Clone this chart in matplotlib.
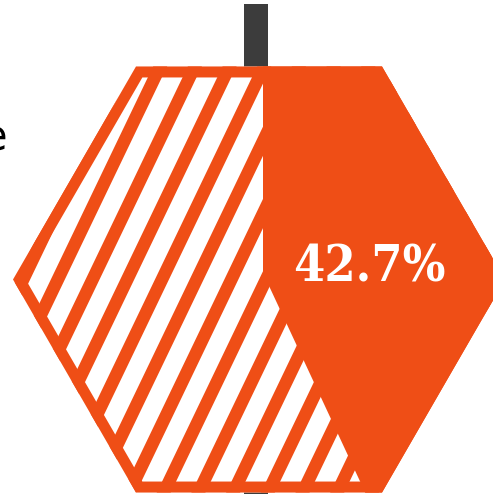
import matplotlib
matplotlib.use("Agg")
import matplotlib.pyplot as plt
import numpy as np
from matplotlib.patches import Polygon, Rectangle

# ---- data ----
value_pct = 42.7
value_label = "42.7%"
side_text = "e"

ORANGE = "#EF4E16"
DARK = "#3C3C3C"

fig = plt.figure(figsize=(4.93, 4.94), dpi=100)
ax = fig.add_axes([0, 0, 1, 1])
ax.set_xlim(0, 493)
ax.set_ylim(494, 0)
ax.axis("off")

# hexagon geometry (pixel space)
cx, cy, R = 259.0, 279.5, 246.0
h = R * np.sqrt(3) / 2
ang = np.deg2rad([0, 60, 120, 180, 240, 300])
hx = cx + R * np.cos(ang)
hy = cy - R * np.sin(ang)
hex_xy = np.column_stack([hx, hy])

# dark vertical bar behind
ax.add_patch(Rectangle((244, 4), 24, 500, color=DARK, zorder=1, lw=0))

hexpatch = Polygon(hex_xy, closed=True, facecolor="white", edgecolor="none", zorder=2)
ax.add_patch(hexpatch)

# stripes
a, p, s, w = 72.0, 34.7, 0.48, 14.0
for k in range(-12, 20):
    x250 = a + p * k
    y0, y1 = -10, 510
    xa = x250 - s * (y0 - 250)
    xb = x250 - s * (y1 - 250)
    st = Polygon([(xa - w / 2, y0), (xa + w / 2, y0), (xb + w / 2, y1), (xb - w / 2, y1)],
                 closed=True, facecolor=ORANGE, edgecolor="none", zorder=3)
    ax.add_patch(st)
    st.set_clip_path(hexpatch)

# solid part
xs, ya = cx + 4, 273.0
ybot = cy + h
xbot = xs + 0.47 * (ybot - ya)
solid = Polygon([(xs, cy - h - 2), (hx[1], hy[1] - 2), (hx[0] + 5, hy[0]), (hx[5], hy[5] + 2),
                 (xbot, ybot + 2), (xs, ya)],
                closed=True, facecolor=ORANGE, edgecolor="none", zorder=4)
ax.add_patch(solid)
solid.set_clip_path(hexpatch)

# outline (inner ~11px)
outline = Polygon(hex_xy, closed=True, fill=False, edgecolor=ORANGE, lw=22 * 72 / 100,
                  joinstyle="miter", zorder=5)
ax.add_patch(outline)
outline.set_clip_path(hexpatch)

ax.text(369, 281, value_label, color="white", fontsize=36, fontweight="bold",
        family="DejaVu Serif", fontstretch="condensed", ha="center", va="baseline", zorder=6)

ax.text(7, 150, side_text, color="black", fontsize=30, family="DejaVu Sans",
        ha="right", va="baseline", zorder=6)

fig.savefig("out.png", dpi=100)
